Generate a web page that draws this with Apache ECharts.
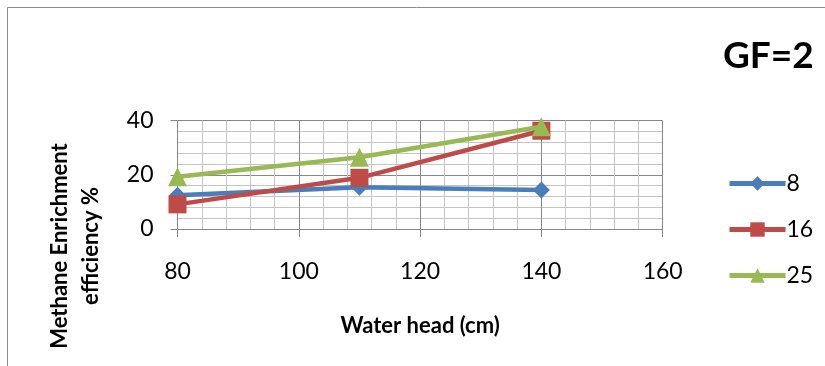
<!DOCTYPE html>
<html>
<head>
<meta charset="utf-8">
<script src="https://cdn.jsdelivr.net/npm/echarts@6/dist/echarts.min.js"></script>
<style>
  html, body { margin: 0; padding: 0; background: #fff; }
  #chart { width: 825px; height: 366px; }
</style>
</head>
<body>
<div id="chart"></div>
<script>
// Water head (cm) on the x axis, efficiency (%) per GF setting series
const waterHead = [80, 110, 140];
const seriesNames = ['8', '16', '25'];
const eff8 = [12.5, 15.4, 14.4];
const eff16 = [9.1, 18.9, 36.3];
const eff25 = [19.3, 26.5, 37.8];
const xTicks = { min: 80, max: 160, interval: 20 };
const yTicks = { min: 0, max: 40, interval: 20 };

const FONT = 'Lato, "Open Sans", sans-serif';
const colors = ['#4a7ebb', '#be4b48', '#98b954'];
const symbols = ['diamond', 'rect', 'triangle'];
const symbolSizes = [17, 18, 19];
const values = [eff8, eff16, eff25];

const chart = echarts.init(document.getElementById('chart'), null, { renderer: 'canvas' });

const series = seriesNames.map((name, i) => ({
  name: name,
  type: 'line',
  data: waterHead.map((x, j) => [x, values[i][j]]),
  symbol: symbols[i],
  symbolSize: symbolSizes[i],
  showAllSymbol: true,
  color: colors[i],
  lineStyle: { width: 4.5, color: colors[i] },
  itemStyle: { color: colors[i] },
  emphasis: { disabled: true },
  z: 2 + i
}));

chart.setOption({
  animation: false,
  backgroundColor: '#fff',
  grid: { left: 177.5, right: 162.3, top: 120.7, bottom: 137, containLabel: false },
  xAxis: {
    type: 'value',
    min: xTicks.min, max: xTicks.max, interval: xTicks.interval,
    name: 'Water head (cm)',
    nameLocation: 'middle',
    nameGap: 86,
    nameTextStyle: { fontFamily: FONT, fontWeight: 'bold', fontSize: 22, color: '#000' },
    axisLine: { show: true, lineStyle: { color: '#878787', width: 1 } },
    axisTick: { show: true, inside: false, length: 8, lineStyle: { color: '#878787' } },
    axisLabel: { fontFamily: FONT, fontSize: 23, color: '#000', margin: 31 },
    splitLine: { show: true, lineStyle: { color: '#878787', width: 1 } },
    minorTick: { show: false, splitNumber: 5 },
    minorSplitLine: { show: true, lineStyle: { color: '#c4c4c4', width: 1 } }
  },
  yAxis: {
    type: 'value',
    min: yTicks.min, max: yTicks.max, interval: yTicks.interval,
    axisLine: { show: true, lineStyle: { color: '#878787', width: 1 } },
    axisTick: { show: true, inside: false, length: 7, lineStyle: { color: '#878787' } },
    axisLabel: { fontFamily: FONT, fontSize: 23, color: '#000', margin: 24 },
    splitLine: { show: true, lineStyle: { color: '#878787', width: 1 } },
    minorTick: { show: false, splitNumber: 5 },
    minorSplitLine: { show: true, lineStyle: { color: '#c4c4c4', width: 1 } }
  },
  legend: {
    orient: 'vertical',
    left: 722,
    top: 167,
    itemWidth: 56,
    itemHeight: 18,
    itemGap: 23,
    selectedMode: false,
    data: seriesNames,
    lineStyle: { width: 5 },
    textStyle: { fontFamily: FONT, fontSize: 23, color: '#000', padding: [0, 0, 0, -4] }
  },
  graphic: [
    {
      type: 'rect',
      silent: true,
      shape: { x: 7.5, y: 7.5, width: 900, height: 500 },
      style: { fill: 'none', stroke: '#8c8c8c', lineWidth: 1 },
      z: -10
    },
    {
      type: 'text',
      left: 723,
      top: 38,
      style: { text: 'GF=2', fontFamily: FONT, fontWeight: 'bold', fontSize: 37, fill: '#000' }
    },
    {
      type: 'text',
      x: 75,
      y: 246,
      rotation: Math.PI / 2,
      style: {
        text: 'Methane Enrichment\nefficiency %',
        fontFamily: FONT, fontWeight: 'bold', fontSize: 22, lineHeight: 31,
        fill: '#000', align: 'center', verticalAlign: 'middle'
      }
    }
  ],
  series: series
});
</script>
</body>
</html>
